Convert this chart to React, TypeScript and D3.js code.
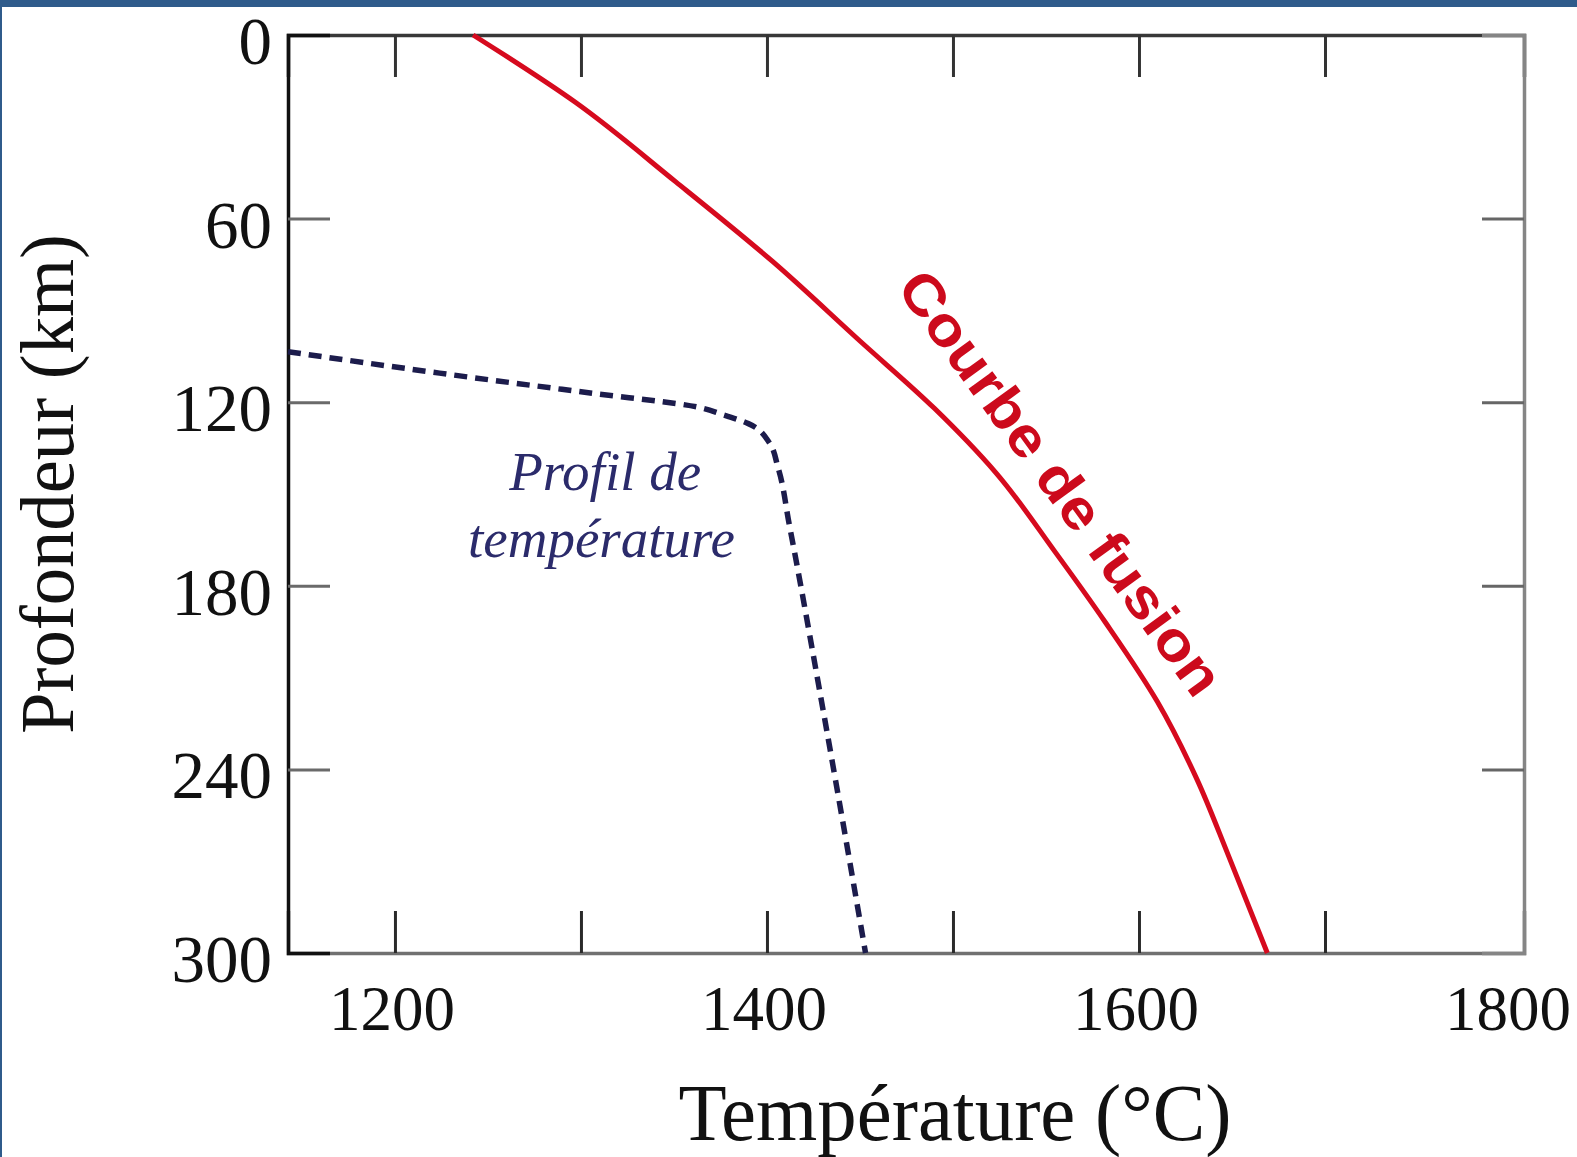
// App.tsx
import React, { useRef, useEffect } from 'react';
import * as d3 from 'd3';

// courbe de fusion (solidus) : profondeur en km, température en °C
const fusionDepth = [0, 22, 48, 74, 100, 122, 143, 169, 192, 218, 243, 268, 300];
const fusionTemp = [1242, 1297, 1351, 1403, 1450, 1490, 1523, 1555, 1582, 1610, 1631, 1648, 1669];

// profil de température (géotherme)
const profileDepth = [103.5, 110.5, 117, 121.5, 124, 127, 133, 141.5, 160, 220, 300];
const profileTemp = [1142.5, 1224, 1305, 1362, 1376, 1390, 1401, 1406, 1412, 1430, 1453];

const xTicks = [1200, 1300, 1400, 1500, 1600, 1700];
const xLabels = [1200, 1400, 1600, 1800];
const yTicks = [60, 120, 180, 240];
const yLabels = [0, 60, 120, 180, 240, 300];

const WIDTH = 1577;
const HEIGHT = 1157;
const serif = '"Liberation Serif", "Times New Roman", serif';

const App = () => {
  const ref = useRef<SVGSVGElement>(null);

  useEffect(() => {
    const svg = d3.select(ref.current)
      .attr('width', WIDTH)
      .attr('height', HEIGHT);

    svg.selectAll('*').remove();

    const x = d3.scaleLinear().domain([1142.5, 1807]).range([288, 1524]);
    const y = d3.scaleLinear().domain([0, 300]).range([35, 953]);
    const [x0, x1] = x.range();
    const [y0, y1] = y.range();
    const tickLen = 42;

    svg.append('rect').attr('width', WIDTH).attr('height', HEIGHT).attr('fill', '#fff');
    // cadre bleu de la page
    svg.append('rect').attr('width', WIDTH).attr('height', 7).attr('fill', '#2f5b8b');
    svg.append('rect').attr('width', 2).attr('height', HEIGHT).attr('fill', '#2f5b8b');

    // axes: ticks tournés vers l'intérieur
    const bottom = svg.append('g')
      .attr('transform', `translate(0, ${y1})`)
      .call(d3.axisBottom(x).tickValues(xTicks).tickSize(-tickLen).tickFormat(() => ''));
    const top = svg.append('g')
      .attr('transform', `translate(0, ${y0})`)
      .call(d3.axisTop(x).tickValues(xTicks).tickSize(-tickLen).tickFormat(() => ''));
    const left = svg.append('g')
      .attr('transform', `translate(${x0}, 0)`)
      .call(d3.axisLeft(y).tickValues(yTicks).tickSize(-tickLen).tickFormat(() => ''));
    const right = svg.append('g')
      .attr('transform', `translate(${x1}, 0)`)
      .call(d3.axisRight(y).tickValues(yTicks).tickSize(-tickLen).tickFormat(() => ''));

    [[bottom, '#707070', '#2a2a2a'], [top, '#383838', '#333'], [left, '#111', '#6a6a6a'], [right, '#858585', '#666']]
      .forEach(([g, c, tc]: any) => {
        g.select('.domain').attr('stroke', c).attr('stroke-width', 3.5);
        g.selectAll('.tick line').attr('stroke', tc).attr('stroke-width', 3);
      });

    // étiquettes des graduations
    svg.append('g').selectAll('text')
      .data(xLabels)
      .enter()
      .append('text')
      .attr('x', d => x(d) - 3)
      .attr('y', y1 + 77)
      .attr('text-anchor', 'middle')
      .attr('font-family', serif)
      .attr('font-size', 63)
      .attr('fill', '#111')
      .text(d => d);

    svg.append('g').selectAll('text')
      .data(yLabels)
      .enter()
      .append('text')
      .attr('x', x0 - 16)
      .attr('y', d => y(d) + 29)
      .attr('text-anchor', 'end')
      .attr('font-family', serif)
      .attr('font-size', 67)
      .attr('fill', '#111')
      .text(d => d);

    // titres des axes
    svg.append('text')
      .attr('x', 955)
      .attr('y', 1140)
      .attr('text-anchor', 'middle')
      .attr('font-family', serif)
      .attr('font-size', 80)
      .attr('textLength', 553)
      .attr('lengthAdjust', 'spacingAndGlyphs')
      .attr('fill', '#111')
      .text('Température  (°C)');

    svg.append('text')
      .attr('transform', 'translate(73, 484) rotate(-90)')
      .attr('text-anchor', 'middle')
      .attr('font-family', serif)
      .attr('font-size', 76)
      .attr('textLength', 500)
      .attr('lengthAdjust', 'spacingAndGlyphs')
      .attr('fill', '#111')
      .text('Profondeur (km)');

    const line = d3.line<[number, number]>()
      .x(d => x(d[0]))
      .y(d => y(d[1]))
      .curve(d3.curveMonotoneY);

    svg.append('path')
      .datum(fusionTemp.map((t, i) => [t, fusionDepth[i]] as [number, number]))
      .attr('d', line)
      .attr('fill', 'none')
      .attr('stroke', '#d60a1e')
      .attr('stroke-width', 5);

    svg.append('path')
      .datum(profileTemp.map((t, i) => [t, profileDepth[i]] as [number, number]))
      .attr('d', line)
      .attr('fill', 'none')
      .attr('stroke', '#1c1c4c')
      .attr('stroke-width', 5.5)
      .attr('stroke-dasharray', '13 8');

    // annotations
    svg.append('text')
      .attr('transform', `translate(${x(1549.5)}, ${y(150)}) rotate(54)`)
      .attr('text-anchor', 'middle')
      .attr('font-family', '"Liberation Sans Narrow", "Liberation Sans", Arial, sans-serif')
      .attr('font-weight', 'bold')
      .attr('font-size', 56)
      .attr('textLength', 510)
      .attr('lengthAdjust', 'spacingAndGlyphs')
      .attr('fill', '#cc0a1c')
      .text('Courbe  de  fusion');

    const profil = svg.append('text')
      .attr('text-anchor', 'middle')
      .attr('font-family', serif)
      .attr('font-style', 'italic')
      .attr('font-size', 55)
      .attr('fill', '#2b2b6b');
    profil.append('tspan').attr('x', x(1313)).attr('y', y(148.7)).text('Profil de');
    profil.append('tspan').attr('x', x(1311)).attr('y', y(170.6)).text('température');
  }, []);

  return (
    <svg ref={ref} style={{ position: 'absolute', left: 0, top: 0, display: 'block' }}></svg>
  );
};

export default App;
